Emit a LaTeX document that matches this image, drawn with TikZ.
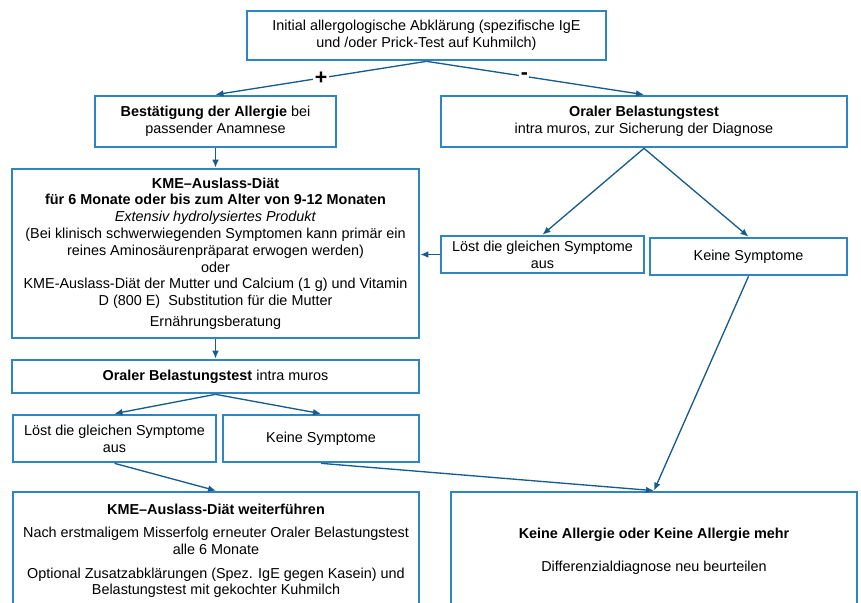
\documentclass[tikz,border=0pt]{standalone}
\usepackage{fontspec}
\setmainfont{Liberation Sans}
\usetikzlibrary{arrows.meta}
\definecolor{boxblue}{RGB}{46,134,193}
\definecolor{arrowblue}{RGB}{24,92,142}
\newcommand\pxu{0.75pt}
\begin{document}
\begin{tikzpicture}[x=0.75pt, y=-0.75pt]
\tikzset{kasten/.style={draw=boxblue, line width=2pt, align=center, inner sep=2pt,
  font=\fontsize{10.8}{12.6}\selectfont},
  pfeil/.style={draw=arrowblue, line width=1pt, -{Latex[length=6pt, width=5pt]}},
  zeichen/.style={fill=white, font=\fontsize{16}{16}\selectfont\bfseries, inner sep=1pt}}
\clip (0, 0) rectangle (861, 603);
\node[kasten, minimum width=359*\pxu, minimum height=49*\pxu] (init) at (426.5, 35.5)
  {Initial allergologische Abklärung (spezifische IgE\\und /oder Prick-Test auf Kuhmilch)};
\node[kasten, minimum width=241*\pxu, minimum height=51*\pxu] (best) at (215.5, 121.5)
  {\textbf{Bestätigung der Allergie} bei\\passender Anamnese};
\node[kasten, minimum width=406*\pxu, minimum height=51*\pxu] (obt1) at (644, 121.5)
  {\textbf{Oraler Belastungstest}\\intra muros, zur Sicherung der Diagnose};
\node[kasten, minimum width=407*\pxu, minimum height=169*\pxu] (kme1) at (215.5, 253.5)
  {\textbf{KME–Auslass-Diät}\\
   \textbf{für 6 Monate oder bis zum Alter von 9-12 Monaten}\\
   \textit{Extensiv hydrolysiertes Produkt}\\
   (Bei klinisch schwerwiegenden Symptomen kann primär ein\\
   reines Aminosäurenpräparat erwogen werden)\\
   oder\\
   KME-Auslass-Diät der Mutter und Calcium (1 g) und Vitamin\\
   D (800 E)~~Substitution für die Mutter\\[3pt]
   Ernährungsberatung};
\node[kasten, minimum width=203*\pxu, minimum height=37*\pxu] (loest1) at (542.5, 254.5)
  {Löst die gleichen Symptome\\aus};
\node[kasten, minimum width=197*\pxu, minimum height=37*\pxu] (keine1) at (748.5, 256.5)
  {Keine Symptome};
\node[kasten, minimum width=407*\pxu, minimum height=33*\pxu] (obt2) at (215.5, 376.5)
  {\textbf{Oraler Belastungstest} intra muros};
\node[kasten, minimum width=203*\pxu, minimum height=47*\pxu] (loest2) at (114.5, 438.5)
  {Löst die gleichen Symptome\\aus};
\node[kasten, minimum width=196*\pxu, minimum height=47*\pxu] (keine2) at (321, 438.5)
  {Keine Symptome};
\node[kasten, minimum width=406*\pxu, minimum height=118*\pxu] (kme2) at (216, 551)
  {\textbf{KME–Auslass-Diät weiterführen}\\[5pt]
   Nach erstmaligem Misserfolg erneuter Oraler Belastungstest\\
   alle 6 Monate\\[5pt]
   Optional Zusatzabklärungen (Spez. IgE gegen Kasein) und\\
   Belastungstest mit gekochter Kuhmilch};
\node[kasten, minimum width=406*\pxu, minimum height=118*\pxu] (allerg) at (654, 551)
  {\textbf{Keine Allergie oder Keine Allergie mehr}\\[12pt]
   Differenzialdiagnose neu beurteilen};
\draw[pfeil] (init.south) -- node[zeichen] {+} (best.north);
\draw[pfeil] (init.south) -- node[zeichen, pos=0.45] {-} (obt1.north);
\draw[pfeil] (best) -- (kme1);
\draw[pfeil] (obt1.south) -- (loest1.north);
\draw[pfeil] (obt1.south) -- (keine1.north);
\draw[pfeil] (loest1.west) -- (loest1.west -| kme1.east);
\draw[pfeil] (kme1) -- (obt2);
\draw[pfeil] (obt2.south) -- (loest2.north);
\draw[pfeil] (obt2.south) -- (keine2.north);
\draw[pfeil] (loest2.south) -- (kme2.north);
\draw[pfeil] (keine2.south) -- (allerg.north);
\draw[pfeil] (keine1.south) -- (allerg.north);
\end{tikzpicture}
\end{document}
